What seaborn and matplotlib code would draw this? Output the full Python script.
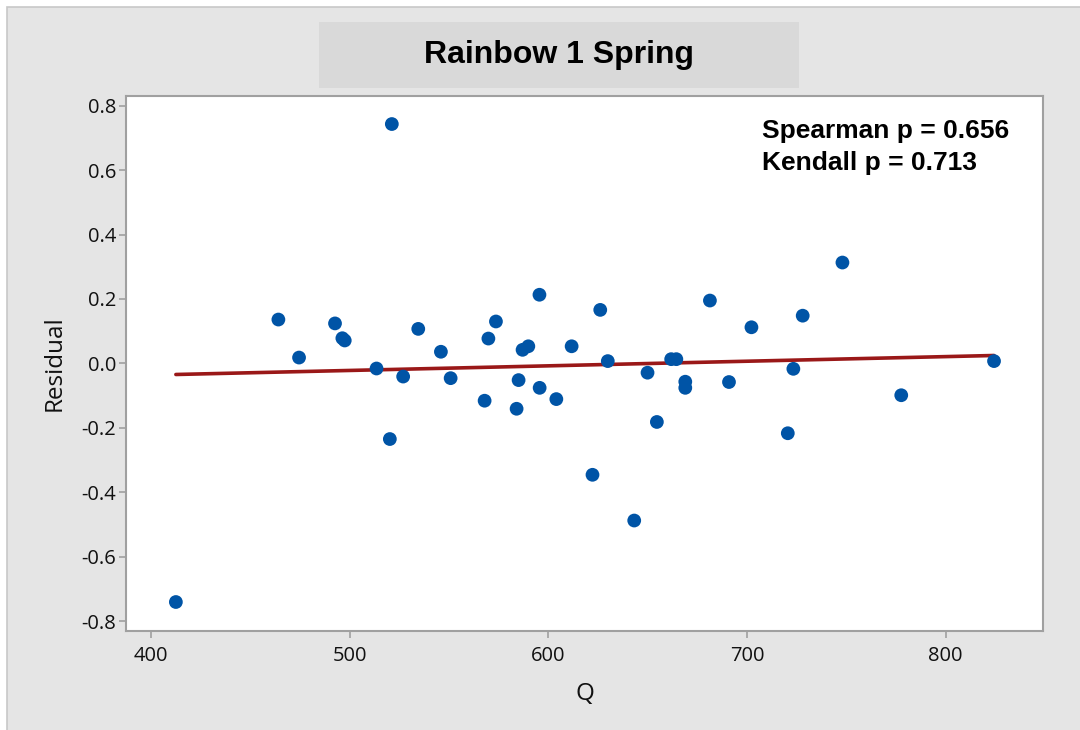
import numpy as np
import pandas as pd
import matplotlib
matplotlib.use("Agg")
import matplotlib.pyplot as plt
from matplotlib.patches import Rectangle
import seaborn as sns

# ---- data ----
q_values = [412.5, 464.1, 474.5, 492.6, 496.3, 497.5, 513.5, 520.2, 521.2, 526.9,
            534.5, 545.9, 550.8, 567.9, 569.8, 573.6, 584.0, 585.0, 587.0, 589.9,
            595.5, 595.6, 604.0, 611.7, 622.2, 626.1, 629.9, 643.2, 649.9, 654.6,
            661.8, 664.4, 668.9, 668.9, 681.3, 690.9, 702.2, 720.5, 723.3, 728.0,
            748.0, 777.6, 824.3]
residuals = [-0.741, 0.136, 0.018, 0.124, 0.078, 0.071, -0.016, -0.235, 0.743, -0.041,
             0.107, 0.036, -0.046, -0.116, 0.077, 0.130, -0.141, -0.052, 0.042, 0.053,
             0.213, -0.076, -0.111, 0.053, -0.346, 0.166, 0.007, -0.488, -0.029, -0.182,
             0.013, 0.013, -0.057, -0.076, 0.195, -0.058, 0.112, -0.217, -0.017, 0.148,
             0.313, -0.099, 0.007]
title_text = "Rainbow 1 Spring"
stat_lines = ["Spearman p = 0.656", "Kendall p = 0.713"]
x_ticks = [400, 500, 600, 700, 800]
y_ticks = [0.8, 0.6, 0.4, 0.2, 0.0, -0.2, -0.4, -0.6, -0.8]

df = pd.DataFrame({"Q": q_values, "Residual": residuals})

sns.set_theme(style="white")
plt.rcParams["font.family"] = ["Open Sans", "DejaVu Sans"]

W, H = 1080, 730
fig = plt.figure(figsize=(W / 100, H / 100), dpi=100, facecolor="white")

# gray background panel with thin border
fig.patches.append(Rectangle((7 / W, -0.01), 1.0, 1 - 7 / H + 0.01,
                             transform=fig.transFigure, facecolor="#E5E5E5",
                             edgecolor="#C8C8C8", linewidth=1.2, zorder=-3))
# title box
fig.patches.append(Rectangle((319 / W, 1 - 87.7 / H), 480 / W, 65.4 / H,
                             transform=fig.transFigure, facecolor="#D9D9D9",
                             edgecolor="none", zorder=-2))
fig.text(559 / W, 1 - 55 / H, title_text, ha="center", va="center",
         fontsize=23, fontweight="bold", family=["Liberation Sans", "DejaVu Sans"],
         color="black", zorder=2)

ax = fig.add_axes([126 / W, 1 - 631 / H, (1043.3 - 126) / W, (631 - 95.7) / H])
ax.set_zorder(1)
ax.set_facecolor("white")

sns.regplot(data=df, x="Q", y="Residual", ax=ax, ci=None,
            scatter_kws=dict(s=98, color="#0054A6", edgecolor="none", alpha=1, zorder=3),
            line_kws=dict(color="#9A1818", linewidth=2.6, zorder=2))

ax.set_xlim(387.4, 849.1)
ax.set_ylim(-0.831, 0.831)
ax.set_xticks(x_ticks)
ax.set_yticks(y_ticks)
ax.set_xticklabels([str(t) for t in x_ticks])
ax.set_yticklabels([f"{t:.1f}" for t in y_ticks])

for s in ax.spines.values():
    s.set_visible(True)
    s.set_color("#A0A0A0")
    s.set_linewidth(1.5)

ax.tick_params(axis="both", which="major", direction="out", length=5,
               width=1.2, color="#A0A0A0", labelsize=14.5, labelcolor="#111111", pad=2)
ax.tick_params(axis="x", bottom=True, top=False, pad=5.5)
ax.tick_params(axis="y", left=True, right=False)

ax.set_xlabel("Q", fontsize=17.5, color="#111111", labelpad=12)
ax.set_ylabel("Residual", fontsize=17.5, color="#111111", labelpad=11)

for i, line in enumerate(stat_lines):
    ax.text(0.693, 0.9204 - i * 0.0597, line, transform=ax.transAxes,
            ha="left", va="baseline", fontsize=19, fontweight="bold",
            family=["Liberation Sans", "DejaVu Sans"], color="black", zorder=4)

fig.savefig("out.png", dpi=100, facecolor=fig.get_facecolor())
